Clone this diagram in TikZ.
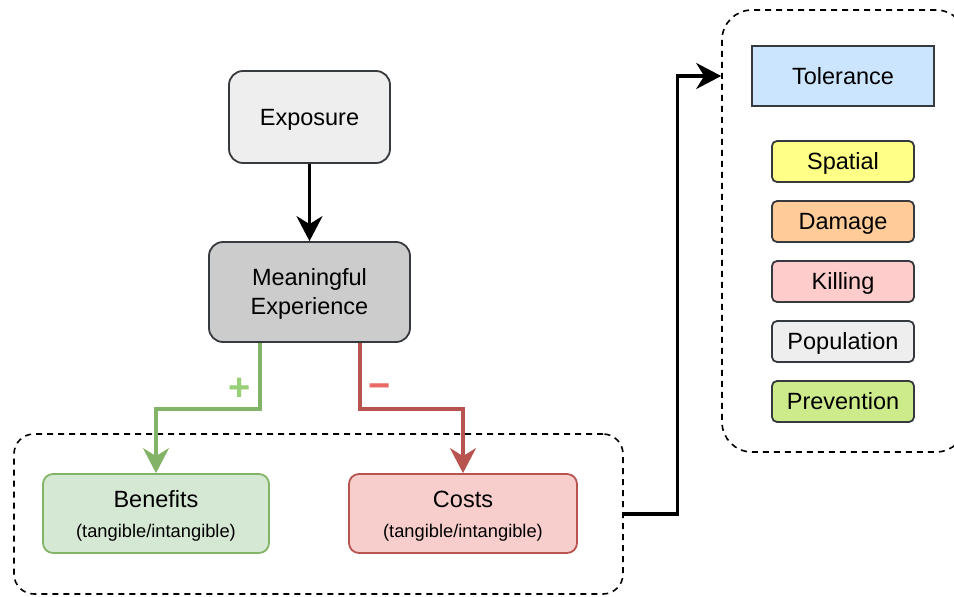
\documentclass[tikz,border=0pt]{standalone}
\usepackage{fontspec}
\setmainfont{Liberation Sans}
\usetikzlibrary{arrows.meta}
\definecolor{strokegray}{HTML}{36393D}
\definecolor{expfill}{HTML}{EEEEEE}
\definecolor{mefill}{HTML}{CCCCCC}
\definecolor{benfill}{HTML}{D5E8D4}
\definecolor{benline}{HTML}{82B366}
\definecolor{costfill}{HTML}{F8CECC}
\definecolor{costline}{HTML}{B85450}
\definecolor{tolfill}{HTML}{CCE5FF}
\definecolor{spatfill}{HTML}{FFFF88}
\definecolor{damfill}{HTML}{FFCC99}
\definecolor{killfill}{HTML}{FFCCCC}
\definecolor{popfill}{HTML}{EEEEEE}
\definecolor{prevfill}{HTML}{CDEB8B}
\definecolor{pluscol}{HTML}{97D077}
\definecolor{minuscol}{HTML}{EA6B66}
\newcommand{\upstrut}{\rule{0pt}{21pt}}
\tikzset{
  bigbox/.style={draw=strokegray, line width=1.8pt, rounded corners=14pt, align=center,
    font=\fontsize{23.5}{29}\selectfont, inner sep=0pt},
  smallbox/.style={draw=strokegray, line width=1.8pt, rounded corners=5pt,
    minimum width=142pt, minimum height=41pt, inner sep=0pt,
    text height=21pt, text depth=5pt,
    font=\fontsize{23.5}{28}\selectfont},
  groupbox/.style={draw=black, line width=1.6pt, dash pattern=on 6pt off 5pt, inner sep=0pt},
  conn/.style={line width=3.2pt, -{Stealth[length=25pt, width=26pt, inset=8pt]}},
  signlabel/.style={font=\fontsize{38}{38}\selectfont\bfseries, inner sep=0pt},
}
\begin{document}
\begin{tikzpicture}[x=1pt, y=-1pt]
\useasboundingbox (0,0) rectangle (954,597);
% containers
\node[groupbox, rounded corners=20pt, minimum width=609pt, minimum height=160pt] (bcont) at (318.5,514) {};
\node[groupbox, rounded corners=30pt, minimum width=244pt, minimum height=442pt] (rcont) at (844,231) {};
% main nodes
\node[bigbox, fill=expfill, minimum width=161pt, minimum height=92pt] (exp) at (309.5,117) {\upstrut Exposure};
\node[bigbox, fill=mefill, minimum width=201pt, minimum height=100pt] (me) at (309.5,292) {\upstrut Meaningful\\Experience};
\node[bigbox, draw=benline, fill=benfill, rounded corners=10pt, minimum width=226pt, minimum height=79pt] (ben) at (156,513.5)
  {\upstrut Benefits\\[1pt]{\fontsize{18.3}{21}\selectfont (tangible/intangible)}};
\node[bigbox, draw=costline, fill=costfill, rounded corners=10pt, minimum width=228pt, minimum height=79pt] (cost) at (463,513.5)
  {\upstrut Costs\\[1pt]{\fontsize{18.3}{21}\selectfont (tangible/intangible)}};
% right column
\node[smallbox, fill=tolfill, rounded corners=0pt, minimum width=182pt, minimum height=60pt] (tol) at (843,76) {Tolerance};
\node[smallbox, fill=spatfill] (spat) at (843,161.5) {Spatial};
\node[smallbox, fill=damfill] (dam) at (843,221.5) {Damage};
\node[smallbox, fill=killfill] (kill) at (843,281.5) {Killing};
\node[smallbox, fill=popfill] (pop) at (843,341.5) {Population};
\node[smallbox, fill=prevfill] (prev) at (843,401.5) {Prevention};
% connectors
\draw[conn] (exp.south) -- (me.north);
\draw[conn, draw=benline] ([xshift=-49.5pt]me.south) -- ++(0,66) -| (ben.north);
\draw[conn, draw=costline] ([xshift=50.5pt]me.south) -- ++(0,66) -| (cost.north);
\draw[conn] (bcont.east) -- ++(54,0) |- (rcont.west |- tol.west);
% labels
\node[signlabel, text=pluscol] (plus) at (240,389) {+};
\node[signlabel, text=minuscol] (minus) at (380,391) {−};
\end{tikzpicture}
\end{document}
